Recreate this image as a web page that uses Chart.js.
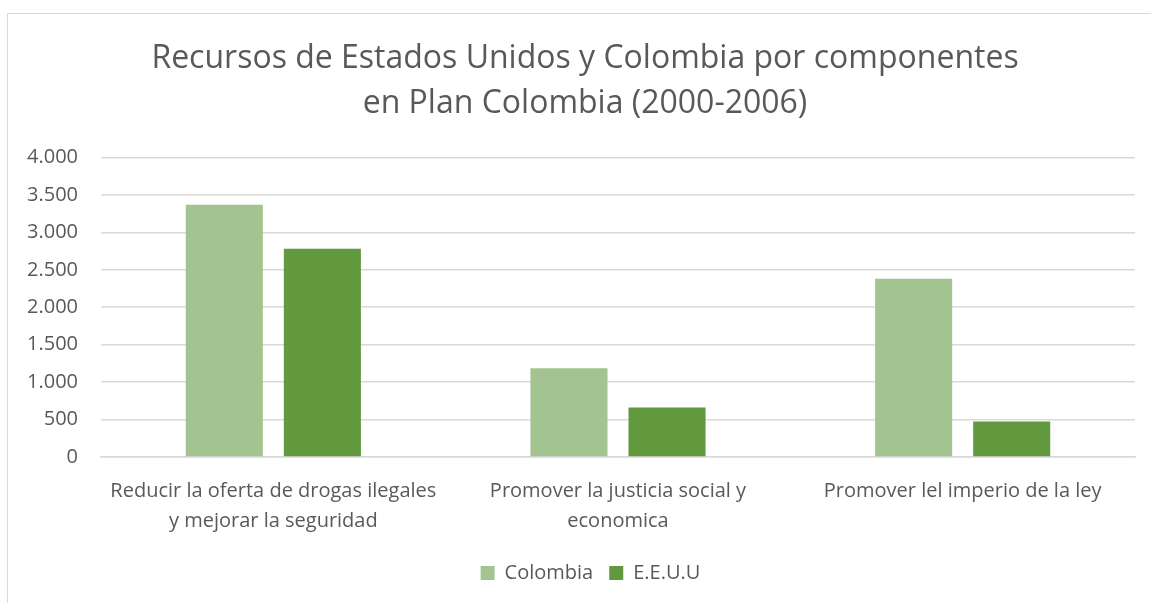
<!DOCTYPE html>
<html><head><meta charset="utf-8">
<script src="https://cdn.jsdelivr.net/npm/chart.js@4/dist/chart.umd.min.js"></script>
<style>
html,body{margin:0;padding:0;background:#fff;overflow:hidden;width:1151px;height:603px;}
#box{position:absolute;left:7px;top:13px;width:1160px;height:610px;border-left:1.5px solid #d9d9d9;border-top:1.5px solid #d9d9d9;box-sizing:border-box;}
#wrap{position:absolute;left:7px;top:13px;width:1156px;height:600px;}
</style></head>
<body>
<div id="box"></div>
<div id="wrap"><canvas id="c" width="1156" height="600"></canvas></div>
<script>
const categories = [["Reducir la oferta de drogas ilegales","y mejorar la seguridad"],["Promover la justicia social y","economica"],"Promover lel imperio de la ley"];
const colombia = [3370, 1185, 2380];
const eeuu = [2780, 660, 475];
const yTicks = [0, 500, 1000, 1500, 2000, 2500, 3000, 3500, 4000];
const FONT = "'Open Sans', 'Noto Sans', sans-serif";
const shiftPlugin = {
  id: 'shiftBlocks',
  afterLayout(chart) {
    const t = chart.titleBlock; if (t) { t.left += 5.5; t.right += 5.5; }
    const l = chart.legend; if (l) { l.left += 11; l.right += 11; }
  }
};
new Chart(document.getElementById('c'), {
  type: 'bar',
  data: {
    labels: categories,
    datasets: [
      {label: 'Colombia', data: colombia, backgroundColor: '#a3c491', borderWidth: 0},
      {label: 'E.E.U.U', data: eeuu, backgroundColor: '#62993e', borderWidth: 0}
    ]
  },
  plugins: [shiftPlugin],
  options: {
    responsive: false, animation: false,
    categoryPercentage: 0.569, barPercentage: 0.786,
    layout: {padding: {left: 17, right: 28, top: 0, bottom: 20}},
    plugins: {
      title: {display: true, text: ['Recursos de Estados Unidos y Colombia por componentes','en Plan Colombia (2000-2006)'],
        color: '#595959', font: {family: FONT, size: 32, weight: 'normal', lineHeight: 1.406}, padding: {top: 23, bottom: 31.5}},
      legend: {position: 'bottom', labels: {color: '#595959', font: {family: FONT, size: 20}, boxWidth: 14, boxHeight: 14, padding: 16}},
      tooltip: {enabled: false}
    },
    scales: {
      x: {grid: {display: false}, border: {display: true, color: '#d9d9d9', width: 1.5},
        ticks: {color: '#595959', font: {family: FONT, size: 20, lineHeight: 1.5}, maxRotation: 0, padding: 11}},
      y: {min: 0, max: 4000, afterBuildTicks: s => { s.ticks = yTicks.map(v => ({value: v})); },
        afterFit: s => { s.width = 77; },
        grid: {color: '#d9d9d9', lineWidth: 1.5, drawTicks: false}, border: {display: false},
        ticks: {color: '#595959', font: {family: FONT, size: 20}, padding: 23,
          callback: v => v.toString().replace(/\B(?=(\d{3})+(?!\d))/g, '.')}}
    }
  }
});
</script>
</body></html>
